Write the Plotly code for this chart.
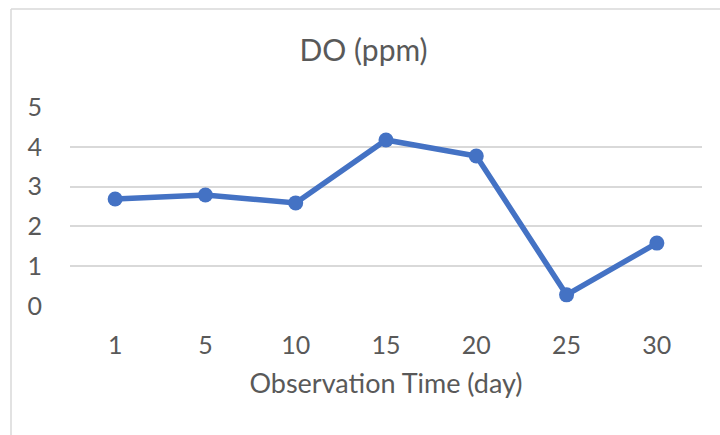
import plotly.graph_objects as go

days = ["1", "5", "10", "15", "20", "25", "30"]
do_ppm = [2.69, 2.79, 2.59, 4.17, 3.77, 0.28, 1.58]
y_ticks = [0, 1, 2, 3, 4, 5]

FONT = "Lato"
GREY = "#595959"

fig = go.Figure(go.Scatter(
    x=days, y=do_ppm, mode="lines+markers",
    line=dict(color="#4472C4", width=5.5),
    marker=dict(color="#4472C4", size=15),
))

fig.update_layout(
    width=720, height=435,
    margin=dict(l=70, r=18, t=107, b=129, autoexpand=False),
    paper_bgcolor="white", plot_bgcolor="white",
    showlegend=False,
    title=dict(text="DO (ppm)", x=0.505, xanchor="center", y=0.885, yanchor="middle",
               font=dict(family=FONT, size=30, color=GREY)),
    font=dict(family=FONT, color=GREY),
    xaxis=dict(type="category", range=[-0.5, len(days) - 0.5], showgrid=False, zeroline=False,
               showline=False, automargin=False,
               tickfont=dict(size=25, color=GREY), ticks="", ticklabelstandoff=22,
               title=dict(text="Observation Time (day)", font=dict(size=27, color=GREY), standoff=16)),
    yaxis=dict(range=[0, 5], tickvals=y_ticks, showgrid=True, gridcolor="#D9D9D9", gridwidth=1.5,
               zeroline=False, showline=False, ticks="", automargin=False,
               tickfont=dict(size=25, color=GREY), ticklabelstandoff=27),
    shapes=[
        dict(type="line", xref="paper", yref="paper", x0=-59/632, x1=-59/632, y0=-129/199, y1=1 + 98/199,
             line=dict(color="#D9D9D9", width=1.5)),
        dict(type="line", xref="paper", yref="paper", x0=-59/632, x1=650/632, y0=1 + 98/199, y1=1 + 98/199,
             line=dict(color="#D9D9D9", width=1.5)),
    ],
)

fig.write_html("out.html", config={"displayModeBar": False},
               post_script="document.body.style.margin='0';document.body.style.padding='0';")
